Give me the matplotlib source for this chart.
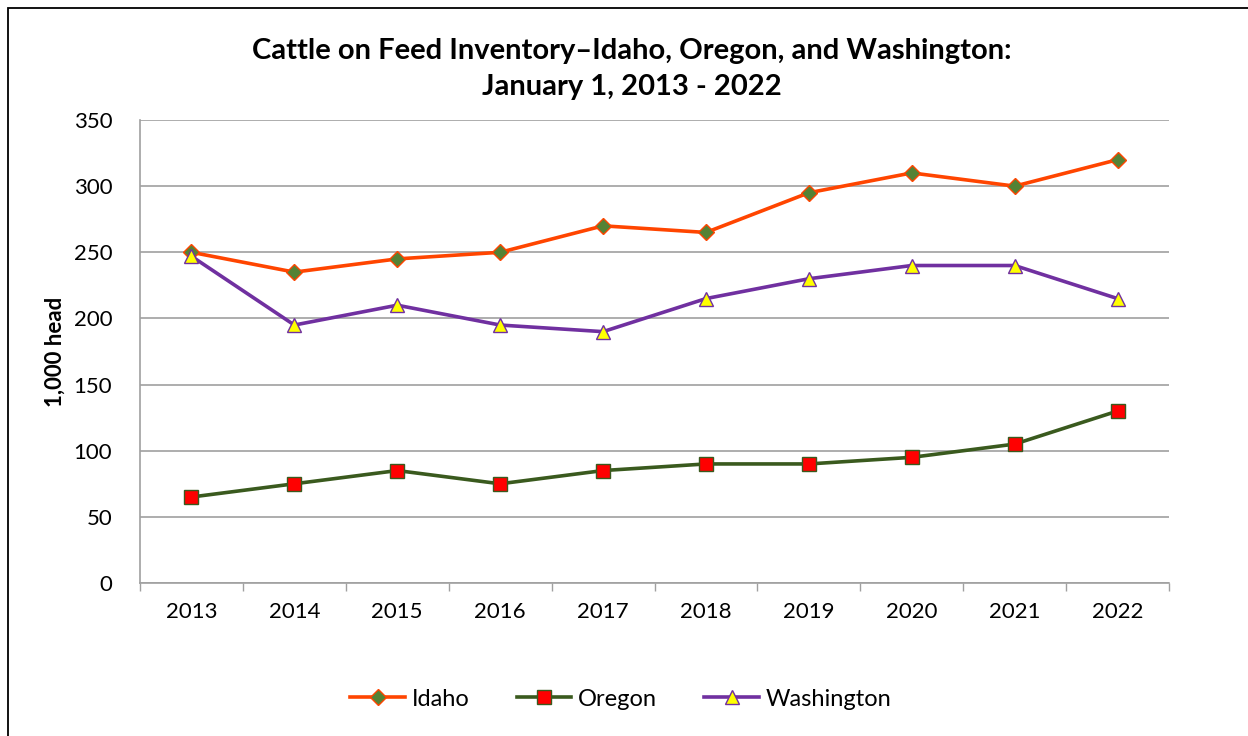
import matplotlib
matplotlib.use("Agg")
import matplotlib.pyplot as plt
from matplotlib.patches import Rectangle

plt.rcParams['font.family'] = ['Lato', 'DejaVu Sans']

years = ['2013', '2014', '2015', '2016', '2017', '2018', '2019', '2020', '2021', '2022']
idaho = [250, 235, 245, 250, 270, 265, 295, 310, 300, 320]
oregon = [65, 75, 85, 75, 85, 90, 90, 95, 105, 130]
washington = [247, 195, 210, 195, 190, 215, 230, 240, 240, 215]

fig = plt.figure(figsize=(12.48, 7.36), dpi=100)
ax = fig.add_axes([140/1248, 1-583/736, (1169-140)/1248, (583-120)/736])

x = range(len(years))
ax.plot(x, idaho, color='#FF4500', lw=2.6, marker='D', ms=8,
        mfc='#548235', mec='#FF4500', mew=1, label='Idaho', zorder=3)
ax.plot(x, oregon, color='#3A5A1E', lw=2.6, marker='s', ms=10,
        mfc='#FF0000', mec='#3A5A1E', mew=1, label='Oregon', zorder=3)
ax.plot(x, washington, color='#7030A0', lw=2.6, marker='^', ms=10,
        mfc='#FFFF00', mec='#7030A0', mew=1, label='Washington', zorder=3)

ax.set_xlim(-0.5, len(years)-0.5)
ax.set_ylim(0, 350)
ax.set_yticks(range(0, 351, 50))
ax.set_xticks(x)
ax.set_xticklabels(years)
ax.set_xticks([i-0.5 for i in range(len(years)+1)], minor=True)
ax.tick_params(axis='x', which='major', length=0, pad=14, labelsize=16)
ax.tick_params(axis='x', which='minor', length=6, color='#A0A0A0', width=1)
ax.tick_params(axis='y', length=0, pad=20, labelsize=16)
ax.grid(axis='y', color='#A0A0A0', lw=1.2)
ax.set_axisbelow(True)
for s in ['top', 'right']:
    ax.spines[s].set_visible(False)
for s in ['left', 'bottom']:
    ax.spines[s].set_color('#A0A0A0')
    ax.spines[s].set_linewidth(1.2)

ax.set_ylabel('1,000 head', fontsize=16, fontweight='bold', labelpad=6)
fig.text(632/1248, 1-69/736, 'Cattle on Feed Inventory\u2013Idaho, Oregon, and Washington:\nJanuary 1, 2013 - 2022',
         ha='center', va='center', fontsize=21, fontweight='bold', linespacing=1.5)

fig.legend(loc='center', bbox_to_anchor=(621/1248, 1-699/736), ncol=3, frameon=False,
           fontsize=17, handlelength=2.3, columnspacing=2.0, handletextpad=0.3)

# outer chart frame
fig.patches.append(Rectangle((8/1248, -0.1), 1.2, 1.1-8/736, transform=fig.transFigure,
                             fill=False, edgecolor='black', lw=1.3))

fig.savefig('out.png', dpi=100)
